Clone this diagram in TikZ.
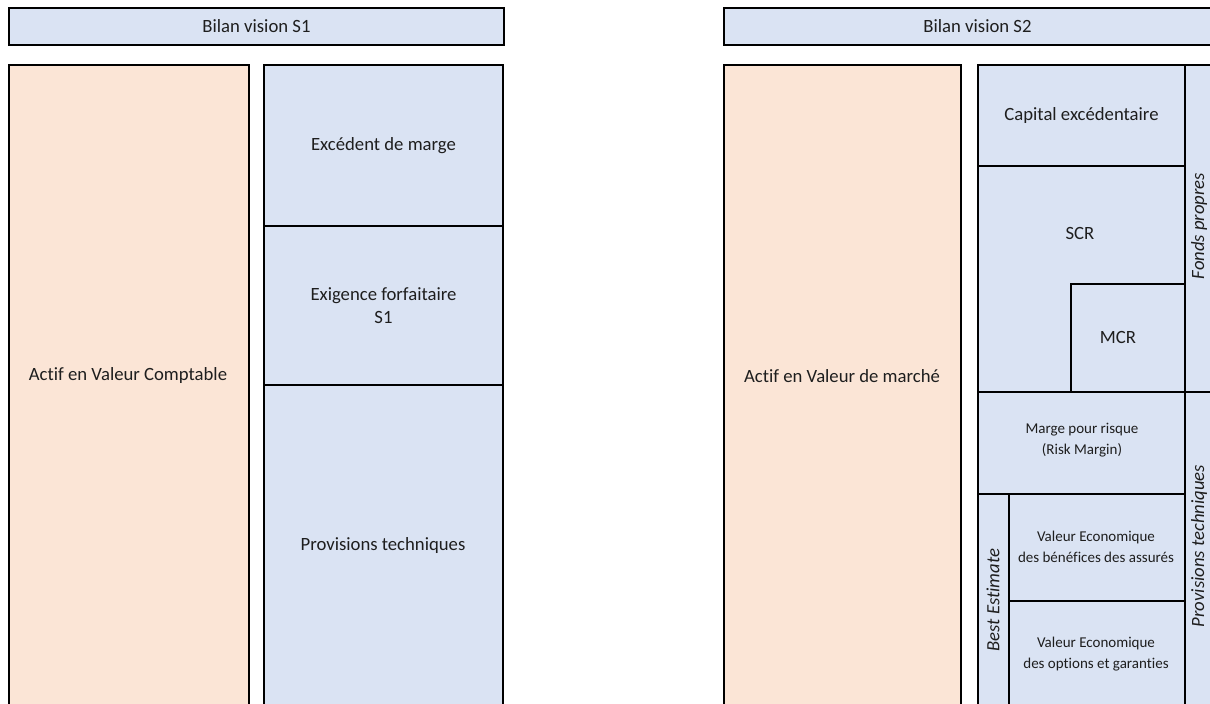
\documentclass[tikz,border=0pt]{standalone}
\usepackage{fontspec}
\setmainfont{Carlito}[Ligatures={NoCommon}]
\definecolor{blueF}{HTML}{DAE3F3}
\definecolor{orangeF}{HTML}{FBE5D6}
\definecolor{txt}{HTML}{1E1E1E}
\newcommand\cellbox[7]{\node[cell, fill=#6, minimum width={(#4)-(#2)}, minimum height={(#5)-(#3)}] (#1) at (#2,#3) {#7};}
\begin{document}
\begin{tikzpicture}[x=1pt,y=-1pt,
  cell/.style={draw=black, line width=2pt, inner sep=0pt, anchor=north west, text=txt, align=center, font=\fontsize{18.7}{22.8}\selectfont},
  lbl/.style={text=txt, inner sep=0pt, align=center, font=\fontsize{18.7}{22.8}\selectfont},
  small/.style={font=\fontsize{15}{21}\selectfont},
  vlbl/.style={lbl, rotate=90, font=\fontsize{18.7}{22.8}\selectfont\itshape}]
\useasboundingbox (0,0) rectangle (1210,704);
\clip (0,0) rectangle (1210,704);
% ---------- S1 ----------
\cellbox{h1}{8}{7}{503}{44}{blueF}{Bilan vision S1}
\cellbox{avc}{8}{64}{248}{720}{orangeF}{}
\cellbox{exc}{263}{64}{502}{225}{blueF}{Excédent de marge}
\cellbox{exi}{263}{225}{502}{384}{blueF}{Exigence forfaitaire\\S1}
\cellbox{pt1}{263}{384}{502}{720}{blueF}{}
\node[lbl] (tavc) at (128,376) {Actif en Valeur Comptable};
\node[lbl] (tpt1) at (383,546) {Provisions techniques};
% ---------- S2 ----------
\cellbox{h2}{723}{7}{1230}{44}{blueF}{Bilan vision S2}
\cellbox{avm}{723}{64}{960}{720}{orangeF}{}
\cellbox{cap}{977}{64}{1184}{165}{blueF}{Capital excédentaire}
\cellbox{scr}{977}{165}{1184}{391}{blueF}{}
\cellbox{mcr}{1070}{283}{1184}{391}{blueF}{}
\cellbox{rm}{977}{391}{1184}{493}{blueF}{}
\cellbox{be}{977}{493}{1008}{720}{blueF}{}
\cellbox{veb}{1008}{493}{1184}{600}{blueF}{}
\cellbox{veo}{1008}{600}{1184}{720}{blueF}{}
\cellbox{fp}{1184}{64}{1230}{391}{blueF}{}
\cellbox{pt2}{1184}{391}{1230}{720}{blueF}{}
\node[lbl] (tavm) at (842,376) {Actif en Valeur de marché};
\node[lbl] (tscr) at (1080,233) {SCR};
\node[lbl] (tmcr) at (1118,337) {MCR};
\node[lbl, small] (trm) at (1082,440) {Marge pour risque\\(Risk Margin)};
\node[lbl, small] (tveb) at (1096,547) {Valeur Economique\\des bénéfices des assurés};
\node[lbl, small] (tveo) at (1096,654) {Valeur Economique\\des options et garanties};
\node[vlbl] (tbe) at (993,600) {Best Estimate};
\node[vlbl] (tfp) at (1199,226) {Fonds propres};
\node[vlbl] (tpt2) at (1199,546) {Provisions techniques};
\end{tikzpicture}
\end{document}
